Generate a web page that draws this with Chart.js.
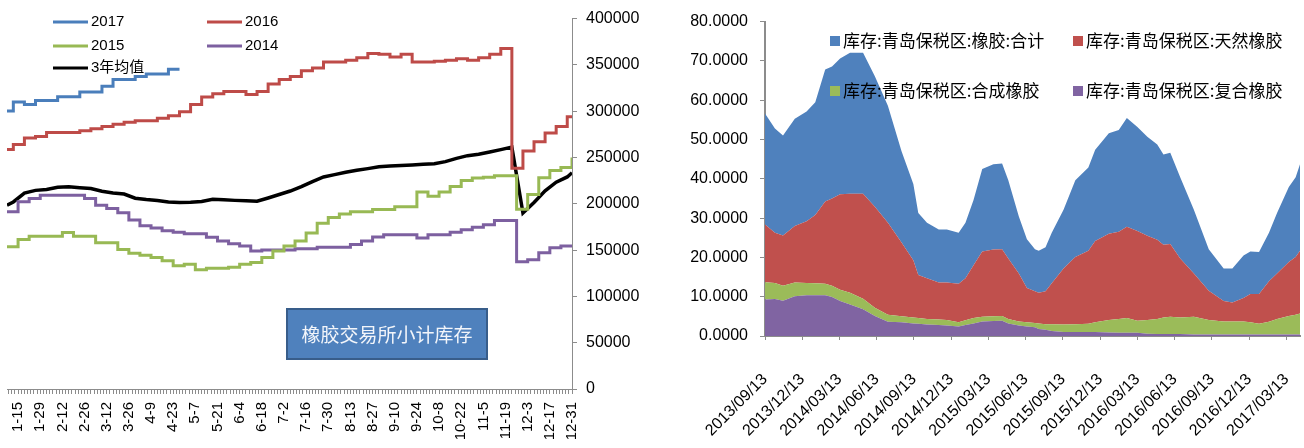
<!DOCTYPE html>
<html>
<head>
<meta charset="utf-8">
<script src="https://cdn.jsdelivr.net/npm/chart.js@4"></script>
<style>
  body { margin: 0; background: #fff; width: 1304px; height: 448px; overflow: hidden; position: relative; }
  #left { position: absolute; left: 0; top: 0; width: 650px; height: 448px; }
  #right { position: absolute; left: 650px; top: 0; width: 654px; height: 448px; }
</style>
</head>
<body>
<div id="left"><canvas id="c1"></canvas></div>
<div id="right"><canvas id="c2"></canvas></div>
<script>
// ---- left chart: exchange rubber stock, by day of year ----
// report days (day of year) : 2016/2017/avg use one weekly grid, 2014/2015 another
var daysB = [8,12,19,26,33,40,47,54,61,68,75,82,89,96,103,110,117,124,131,138,145,152,159,166,173,180,187,194,201,208,215,222,229,236,243,250,257,264,271,278,285,292,299,306,313,320,327,334,341,348,355,362,365];
var daysA = [8,15,22,29,36,43,50,57,64,71,78,85,92,99,106,113,120,127,134,141,148,155,162,169,176,183,190,197,204,211,218,225,232,239,246,253,260,267,274,281,288,295,302,309,316,323,330,337,344,351,358,365];

var s2017 = [300100,310000,307200,311500,311500,315700,315700,320600,320600,327000,334100,334100,337600,340100,340100,345400,345400];
var s2016 = [258700,264000,271100,272800,277100,277100,277100,278900,281000,283500,286000,288100,289800,289800,292400,295100,299400,307200,315300,318900,321400,321400,317900,321400,329500,334100,337600,343600,346600,353200,353200,355000,357800,362400,361400,358500,361400,353200,353200,354000,355000,356700,355000,357800,361400,367700,238500,256900,266900,276400,283500,294100,294100];
var s2015 = [153600,161400,165000,165000,165000,169000,165000,165000,157900,157900,150700,146500,144400,141900,138400,133100,134800,128900,130300,130300,131600,134800,136600,141900,149000,154400,159700,168500,179100,185100,189000,191500,191500,193900,193900,196800,196800,212700,208100,212700,218700,225100,227900,228700,230400,230400,194000,210000,228000,236000,239300,249900];
var s2014 = [191500,202100,205600,209100,209100,209100,209100,205600,198500,195000,190400,182600,176200,173800,170900,169200,167700,167700,163900,159700,156800,154400,149000,150200,150200,150200,151500,151500,153200,153200,153200,156100,159700,164200,166700,166700,166700,163200,166700,166700,169200,172000,174800,177300,182000,182000,137400,139500,147200,152500,154400,154400];
var sAvg = [198500,202000,211500,214500,215500,217800,218300,217300,216500,213600,211700,210500,206000,204600,203500,202000,201400,201600,202400,204900,204300,203700,203300,202800,206300,210000,213800,218500,224000,229000,231500,234000,236200,238000,240000,240700,241400,242000,242700,243300,245500,249000,252000,253500,256000,258500,261200,190000,201500,214000,223300,229000,233500];

var dayTickDays = [15,29,43,57,71,85,99,113,127,141,155,169,183,197,211,225,239,253,267,281,295,309,323,337,351,365];
var dayTickLabels = ['1-15','1-29','2-12','2-26','3-12','3-26','4-9','4-23','5-7','5-21','6-4','6-18','7-2','7-16','7-30','8-13','8-27','9-10','9-24','10-8','10-22','11-5','11-19','12-3','12-17','12-31'];

// ---- right chart: Qingdao bonded-zone stock (months since 2013/09/13) ----
var qdMonth = [0,0.8,1.45,2.4,3.35,4.05,4.85,5.4,6.05,6.85,7.9,8.85,9.9,11.0,11.95,12.35,13.05,14.0,14.65,15.6,16.15,16.8,17.5,18.4,19.1,19.6,20.45,21.1,21.75,22.05,22.6,23.1,24.05,25.0,26.05,26.6,27.7,28.5,29.15,30.0,30.8,31.6,32.1,32.65,33.45,34.55,35.75,36.95,37.65,38.55,39.1,39.8,40.6,41.25,42.2,42.75,43.1];
var qdComposite = [9.3,9.4,9.0,10.1,10.4,10.4,10.4,9.9,8.9,8.0,6.8,5.1,3.6,3.5,3.2,3.1,2.9,2.8,2.7,2.4,2.8,3.2,3.7,3.8,3.9,3.2,2.7,2.4,2.2,1.8,1.6,1.3,1.0,1.0,1.0,1.0,0.9,0.8,0.8,0.8,0.6,0.5,0.5,0.5,0.5,0.4,0.4,0.4,0.4,0.4,0.4,0.4,0.4,0.4,0.4,0.4,0.4];
var qdSynthetic = [4.4,4.1,3.8,3.5,3.1,3.0,2.9,2.9,2.9,3.0,2.7,2.1,1.8,1.5,1.5,1.5,1.4,1.4,1.4,1.1,1.2,1.4,1.2,1.2,1.2,1.1,1.0,1.1,1.1,1.4,1.4,1.7,1.9,2.0,2.1,2.5,3.2,3.5,3.8,3.1,3.5,3.8,4.2,4.4,4.2,4.5,3.7,3.3,3.3,3.3,3.1,2.7,3.2,3.9,4.7,5.0,5.3];
var qdNatural = [14.7,12.8,12.8,14.4,15.7,17.4,20.9,22.2,24.3,25.2,26.7,25.7,23.4,18.8,14.6,10.9,10.4,9.4,9.5,9.8,10.7,13.4,16.6,17.0,17.0,15.4,12.2,8.7,8.1,7.8,8.4,10.4,14.3,17.1,18.6,20.7,21.9,22.2,23.2,22.8,21.4,20.2,18.5,18.5,15.0,11.0,7.4,5.2,4.8,6.0,7.2,7.6,10.3,11.6,13.7,14.7,16.0];
var qdTotal = [28.2,26.5,25.4,27.3,27.9,28.7,33.6,33.6,34.5,35.9,35.9,33.2,29.8,23.2,19.4,15.8,14.1,13.5,13.5,13.0,14.1,16.6,21.0,21.7,21.8,19.9,14.5,12.4,10.7,10.7,11.2,12.9,14.9,19.5,21.2,23.2,25.6,25.9,27.7,26.5,25.2,24.2,23.0,23.2,20.7,16.2,10.6,8.3,8.7,10.8,10.8,10.7,12.4,15.4,19.1,20.3,22.0];

var qdTickMonths = [0,3,6,9,12,15,18,21,24,27,30,33,36,39,42];
var qdTickLabels = ['2013/09/13','2013/12/13','2014/03/13','2014/06/13','2014/09/13','2014/12/13','2015/03/13','2015/06/13','2015/09/13','2015/12/13','2016/03/13','2016/06/13','2016/09/13','2016/12/13','2017/03/13'];

function pts(xs, ys) {
  return ys.map(function (v, i) { return { x: xs[i], y: v }; });
}

Chart.defaults.font.family = '"Liberation Sans", "Noto Sans CJK SC", sans-serif';
Chart.defaults.color = '#000';
Chart.defaults.animation = false;

// legend drawn inside the plot
var innerLegend = {
  id: 'innerLegend',
  afterDraw: function (chart, args, o) {
    if (!o.items) return;
    var ctx = chart.ctx;
    ctx.save();
    ctx.font = o.font;
    ctx.textBaseline = 'middle';
    o.items.forEach(function (it) {
      var ds = chart.data.datasets[it.index];
      if (o.kind === 'line') {
        ctx.strokeStyle = ds.borderColor;
        ctx.lineWidth = 3;
        ctx.beginPath();
        ctx.moveTo(it.x, it.y);
        ctx.lineTo(it.x + o.sample, it.y);
        ctx.stroke();
      } else {
        ctx.fillStyle = ds.backgroundColor;
        ctx.fillRect(it.x, it.y - 5, o.sample, 10);
      }
      ctx.fillStyle = '#000';
      ctx.fillText(ds.label, it.x + o.sample + o.gap, it.y);
    });
    ctx.restore();
  }
};

// blue title box
var titleBox = {
  id: 'titleBox',
  afterDraw: function (chart, args, o) {
    if (!o.text) return;
    var ctx = chart.ctx;
    ctx.save();
    ctx.fillStyle = '#4F81BD';
    ctx.strokeStyle = '#385D8A';
    ctx.lineWidth = 2;
    ctx.fillRect(o.x, o.y, o.w, o.h);
    ctx.strokeRect(o.x, o.y, o.w, o.h);
    ctx.fillStyle = '#F2F5FA';
    ctx.font = '19px "Noto Sans CJK SC"';
    ctx.textAlign = 'center';
    ctx.textBaseline = 'middle';
    ctx.fillText(o.text, o.x + o.w / 2, o.y + o.h / 2 + 1);
    ctx.restore();
  }
};

function lineSet(label, xs, ys, color, stepped, width) {
  return {
    label: label, data: pts(xs, ys), borderColor: color, backgroundColor: color,
    borderWidth: width, pointRadius: 0, stepped: stepped, fill: false
  };
}

new Chart(document.getElementById('c1'), {
  type: 'line',
  data: {
    datasets: [
      lineSet('2017', daysB, s2017, '#4A7EBB', true, 3),
      lineSet('2016', daysB, s2016, '#BE4B48', true, 3),
      lineSet('2015', daysA, s2015, '#98B954', true, 3),
      lineSet('2014', daysA, s2014, '#7D60A0', true, 3),
      lineSet('3年均值', daysB, sAvg, '#000000', false, 3.5)
    ]
  },
  plugins: [innerLegend, titleBox],
  options: {
    responsive: true,
    maintainAspectRatio: false,
    layout: { padding: { left: 7, top: 12, right: 0, bottom: 0 } },
    plugins: {
      legend: { display: false },
      tooltip: { enabled: false },
      innerLegend: {
        kind: 'line', font: '15px "Liberation Sans", "Noto Sans CJK SC"', sample: 35, gap: 3,
        items: [
          { index: 0, x: 53, y: 22 }, { index: 1, x: 207, y: 22 },
          { index: 2, x: 53, y: 46 }, { index: 3, x: 207, y: 46 },
          { index: 4, x: 53, y: 68 }
        ]
      },
      titleBox: { text: '橡胶交易所小计库存', x: 287, y: 309, w: 200, h: 50 }
    },
    scales: {
      x: {
        type: 'linear', min: 8, max: 365,
        afterBuildTicks: function (s) {
          var t = [];
          for (var d = 9; d <= 365; d += 2) t.push({ value: d });
          s.ticks = t;
        },
        afterFit: function (s) { s.height = 59; },
        grid: { drawOnChartArea: false, tickLength: 5, color: '#8C8C8C' },
        border: { color: '#8C8C8C' },
        ticks: {
          autoSkip: false, minRotation: 90, maxRotation: 90, padding: 8,
          font: { size: 15 },
          callback: function (v) {
            var i = dayTickDays.indexOf(v);
            return i < 0 ? '' : dayTickLabels[i];
          }
        }
      },
      y: {
        position: 'right', min: 0, max: 400000,
        afterFit: function (s) { s.width = 78; },
        grid: { drawOnChartArea: false, tickLength: 5, color: '#8C8C8C' },
        border: { color: '#8C8C8C' },
        ticks: {
          stepSize: 50000, padding: 9, font: { size: 16 },
          callback: function (v) { return String(v); }
        }
      }
    }
  }
});

function areaSet(label, ys, color, fill) {
  return {
    label: label, data: pts(qdMonth, ys), backgroundColor: color, borderColor: color,
    borderWidth: 0, pointRadius: 0, fill: fill, tension: 0
  };
}

new Chart(document.getElementById('c2'), {
  type: 'line',
  data: {
    datasets: [
      areaSet('库存:青岛保税区:复合橡胶', qdComposite, '#8064A2', 'origin'),
      areaSet('库存:青岛保税区:合成橡胶', qdSynthetic, '#9BBB59', '-1'),
      areaSet('库存:青岛保税区:天然橡胶', qdNatural, '#C0504D', '-1'),
      areaSet('库存:青岛保税区:橡胶:合计', qdTotal, '#4F81BD', '-1')
    ]
  },
  plugins: [innerLegend],
  options: {
    responsive: true,
    maintainAspectRatio: false,
    layout: { padding: { left: 0, top: 14, right: 4, bottom: 0 } },
    plugins: {
      legend: { display: false },
      tooltip: { enabled: false },
      filler: { propagate: false },
      innerLegend: {
        kind: 'box', font: '17px "Noto Sans CJK SC"', sample: 10, gap: 3,
        items: [
          { index: 3, x: 180, y: 41 }, { index: 2, x: 423, y: 41 },
          { index: 1, x: 180, y: 91 }, { index: 0, x: 423, y: 91 }
        ]
      }
    },
    scales: {
      x: {
        type: 'linear', min: 0, max: 43.1,
        afterBuildTicks: function (s) {
          s.ticks = qdTickMonths.map(function (m) { return { value: m }; });
        },
        afterFit: function (s) { s.height = 112; s.paddingLeft = 0; s.paddingRight = 0; },
        grid: { drawOnChartArea: false, tickLength: 4, color: '#8C8C8C' },
        border: { color: '#8C8C8C', width: 2 },
        ticks: {
          autoSkip: false, minRotation: 45, maxRotation: 45, padding: 30,
          font: { size: 16 },
          callback: function (v) {
            var i = qdTickMonths.indexOf(v);
            return i < 0 ? '' : qdTickLabels[i];
          }
        }
      },
      y: {
        stacked: true, min: 0, max: 80,
        afterFit: function (s) { s.width = 115; },
        grid: { drawOnChartArea: false, tickLength: 5, color: '#8C8C8C' },
        border: { color: '#8C8C8C', width: 2 },
        ticks: {
          stepSize: 10, padding: 12, font: { size: 16 },
          callback: function (v) { return v.toFixed(4); }
        }
      }
    }
  }
});
</script>
</body>
</html>
